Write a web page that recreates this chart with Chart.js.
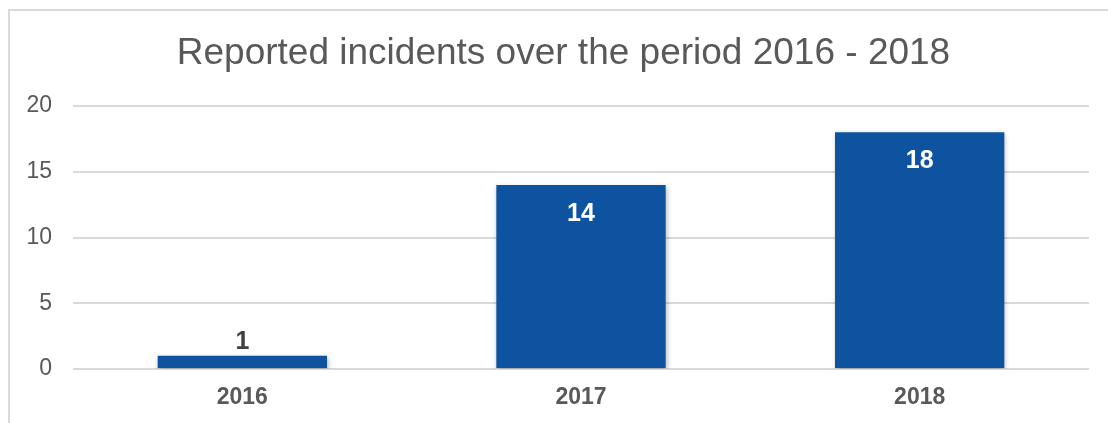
<!DOCTYPE html>
<html>
<head>
<meta charset="utf-8">
<script src="https://cdn.jsdelivr.net/npm/chart.js@4/dist/chart.umd.min.js"></script>
<style>
  html, body { margin: 0; padding: 0; background: #ffffff; }
  #wrap { position: relative; width: 1108px; height: 423px; }
</style>
</head>
<body>
<div id="wrap"><canvas id="chart"></canvas></div>
<script>
// Chart data
const categories = ['2016', '2017', '2018'];
const incidents = [1, 14, 18];
const yTicks = [0, 5, 10, 15, 20];
const chartTitle = 'Reported incidents over the period 2016 - 2018';

const BAR_COLOR = '#0E53A0';
const TEXT_COLOR = '#595959';
const GRID_COLOR = '#d9d9d9';
const FONT = '"Liberation Sans", Arial, sans-serif';

// Light frame along the top and left edges of the chart panel, plus the heading
const framePlugin = {
  id: 'frame',
  beforeDraw(chart) {
    const ctx = chart.ctx;
    ctx.save();
    ctx.strokeStyle = GRID_COLOR;
    ctx.lineWidth = 2;
    ctx.beginPath();
    ctx.moveTo(9, chart.height);
    ctx.lineTo(9, 10);
    ctx.lineTo(chart.width, 10);
    ctx.stroke();

    ctx.fillStyle = TEXT_COLOR;
    ctx.font = '37px ' + FONT;
    ctx.textAlign = 'center';
    ctx.textBaseline = 'alphabetic';
    ctx.fillText(chartTitle, 563.5, 64);
    ctx.restore();
  }
};

// Soft shadow under the bars, then value labels on top
const barDecorPlugin = {
  id: 'barDecor',
  beforeDatasetsDraw(chart) {
    const ctx = chart.ctx;
    ctx.save();
    ctx.shadowColor = 'rgba(0,0,0,0.3)';
    ctx.shadowBlur = 5;
    ctx.shadowOffsetX = 1;
    ctx.shadowOffsetY = 2;
  },
  afterDatasetsDraw(chart) {
    const ctx = chart.ctx;
    ctx.restore();
    ctx.save();
    ctx.font = 'bold 25px ' + FONT;
    ctx.textAlign = 'center';
    ctx.textBaseline = 'middle';
    const meta = chart.getDatasetMeta(0);
    meta.data.forEach((bar, i) => {
      const v = chart.data.datasets[0].data[i];
      const h = bar.base - bar.y;
      if (h > 40) {
        ctx.fillStyle = '#ffffff';
        ctx.fillText(String(v), bar.x, bar.y + 29);
      } else {
        ctx.fillStyle = '#404040';
        ctx.fillText(String(v), bar.x, bar.y - 14);
      }
    });
    ctx.restore();
  }
};

new Chart(document.getElementById('chart'), {
  type: 'bar',
  data: {
    labels: categories,
    datasets: [{
      data: incidents,
      backgroundColor: BAR_COLOR,
      borderWidth: 0,
      barPercentage: 0.5,
      categoryPercentage: 1.0
    }]
  },
  options: {
    responsive: true,
    maintainAspectRatio: false,
    animation: false,
    layout: { padding: { left: 0, right: 19, top: 106, bottom: 0 } },
    plugins: {
      legend: { display: false },
      tooltip: { enabled: false },
      title: { display: false }
    },
    scales: {
      x: {
        grid: { display: false },
        border: { display: false },
        ticks: {
          color: TEXT_COLOR,
          font: { family: FONT, size: 23, weight: 'bold' },
          padding: 7
        },
        afterFit(scale) { scale.height = 54; }
      },
      y: {
        min: 0,
        max: 20,
        afterBuildTicks(scale) { scale.ticks = yTicks.map(v => ({ value: v })); },
        grid: { color: GRID_COLOR, lineWidth: 2, drawTicks: false },
        border: { display: false },
        ticks: {
          color: TEXT_COLOR,
          font: { family: FONT, size: 23 },
          padding: 21
        },
        afterFit(scale) { scale.width = 73; }
      }
    }
  },
  plugins: [framePlugin, barDecorPlugin]
});
</script>
</body>
</html>
